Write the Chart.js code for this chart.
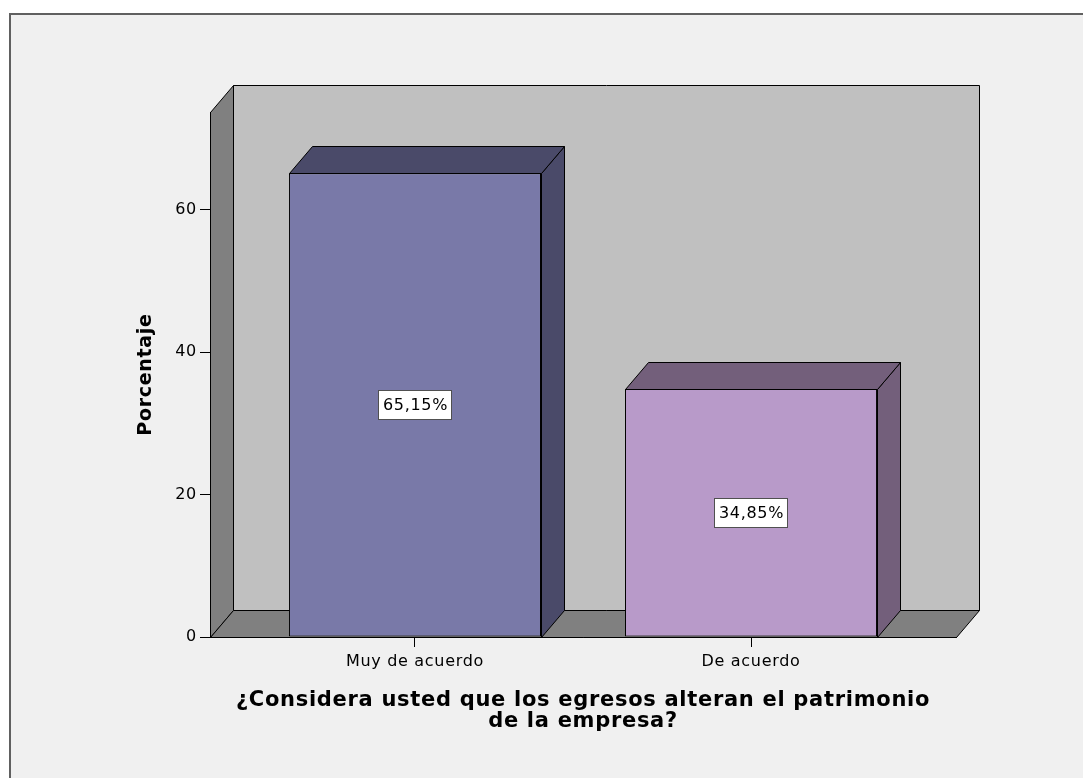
<!DOCTYPE html>
<html>
<head>
<meta charset="utf-8">
<title>Porcentaje</title>
<script src="https://cdn.jsdelivr.net/npm/chart.js@4.4.1/dist/chart.umd.min.js"></script>
<style>
    html, body { margin: 0; padding: 0; background: #fff; overflow: hidden; }
    #frame {
        position: absolute; left: 9px; top: 13px;
        width: 1100px; height: 800px;
        border: 2px solid #606060;
        background: #f0f0f0;
    }
    #chart { position: absolute; left: 0; top: 0; }
</style>
</head>
<body>
<div id="frame"></div>
<canvas id="chart" width="1083" height="778"></canvas>
<script>
const categories = ['Muy de acuerdo', 'De acuerdo'];
const percentages = [65.15, 34.85];
const yTicks = [0, 20, 40, 60];
const yMax = 73.76;
const xTitle = ['¿Considera usted que los egresos alteran el patrimonio', 'de la empresa?'];
const yTitle = 'Porcentaje';

const frontColors = ['#7979a8', '#b89ac9'];
const shadeColors = ['#4a4a69', '#735f7b'];

// depth of the fake 3D box, in pixels
const DX = 23;
const DY = 27;
const FONT = '"DejaVu Sans", sans-serif';

function px(v) {
    return Math.round(v) + 0.5;
}

function polygon(ctx, points, fill) {
    ctx.beginPath();
    points.forEach(([x, y], i) => {
        if (i === 0) ctx.moveTo(px(x), px(y));
        else ctx.lineTo(px(x), px(y));
    });
    ctx.closePath();
    ctx.fillStyle = fill;
    ctx.fill();
    ctx.stroke();
}

const box3d = {
    id: 'box3d',
    beforeDraw(chart) {
        const ctx = chart.ctx;
        const { left, right, top, bottom } = chart.chartArea;
        ctx.letterSpacing = '0.7px';
        ctx.save();
        ctx.strokeStyle = '#000';
        ctx.lineWidth = 1;
        // back wall, left wall, floor
        polygon(ctx, [[left + DX, top - DY], [right + DX, top - DY], [right + DX, bottom - DY], [left + DX, bottom - DY]], '#c0c0c0');
        polygon(ctx, [[left, top], [left + DX, top - DY], [left + DX, bottom - DY], [left, bottom]], '#808080');
        polygon(ctx, [[left, bottom], [left + DX, bottom - DY], [right + DX, bottom - DY], [right, bottom]], '#808080');
        ctx.restore();
    },
    afterDatasetsDraw(chart) {
        const ctx = chart.ctx;
        const meta = chart.getDatasetMeta(0);
        ctx.save();
        ctx.lineWidth = 1;
        meta.data.forEach((bar, i) => {
            const { x, y, width, base } = bar.getProps(['x', 'y', 'width', 'base'], true);
            const l = x - width / 2;
            const r = x + width / 2;
            // side and top faces of each bar
            ctx.strokeStyle = '#000';
            polygon(ctx, [[r, y], [r + DX, y - DY], [r + DX, base - DY], [r, base]], shadeColors[i]);
            polygon(ctx, [[l, y], [l + DX, y - DY], [r + DX, y - DY], [r, y]], shadeColors[i]);

            // value label in a white box
            const text = percentages[i].toFixed(2).replace('.', ',') + '%';
            ctx.font = '16px ' + FONT;
            const w = Math.round(ctx.measureText(text).width + 9);
            const h = 30;
            const cy = (y + base) / 2;
            const bx = Math.round(x - w / 2);
            const by = Math.round(cy - h / 2);
            ctx.fillStyle = '#fff';
            ctx.fillRect(bx, by, w, h);
            ctx.strokeStyle = '#505050';
            ctx.strokeRect(bx + 0.5, by + 0.5, w - 1, h - 1);
            ctx.fillStyle = '#000';
            ctx.textAlign = 'center';
            ctx.textBaseline = 'middle';
            ctx.fillText(text, x + 0.5, cy + 1);
        });
        ctx.restore();
    }
};

const ctx = document.getElementById('chart').getContext('2d');

new Chart(ctx, {
    type: 'bar',
    data: {
        labels: categories,
        datasets: [{
            data: percentages.map((v, i) => ({ x: i, y: v })),
            backgroundColor: frontColors,
            borderColor: '#000',
            borderWidth: 1,
            borderSkipped: false,
            grouped: false,
            barPercentage: 0.75,
            categoryPercentage: 1
        }]
    },
    options: {
        responsive: false,
        animation: false,
        layout: {
            padding: { left: 120, top: 112, right: 127, bottom: 41 }
        },
        plugins: {
            legend: { display: false },
            tooltip: { enabled: false }
        },
        scales: {
            x: {
                type: 'linear',
                offset: false,
                min: -0.61,
                max: 1.61,
                afterBuildTicks: scale => {
                    scale.ticks = categories.map((c, i) => ({ value: i }));
                },
                afterFit: scale => {
                    scale.height = 100;
                },
                grid: {
                    offset: false,
                    drawOnChartArea: false,
                    drawTicks: true,
                    tickLength: 10,
                    color: '#000'
                },
                border: { display: true, color: '#000' },
                ticks: {
                    callback: value => categories[value],
                    color: '#000',
                    padding: 5,
                    maxRotation: 0,
                    font: { family: FONT, size: 16 }
                },
                title: {
                    display: true,
                    text: xTitle,
                    color: '#000',
                    padding: { top: 4, bottom: 5 },
                    font: { family: FONT, size: 21, weight: 'bold', lineHeight: 1 }
                }
            },
            y: {
                min: 0,
                max: yMax,
                afterBuildTicks: scale => {
                    scale.ticks = yTicks.map(v => ({ value: v }));
                },
                afterFit: scale => {
                    scale.width = 90;
                },
                grid: {
                    drawOnChartArea: false,
                    drawTicks: true,
                    tickLength: 10,
                    color: '#000'
                },
                border: { display: true, color: '#000' },
                ticks: {
                    color: '#000',
                    padding: 3,
                    font: { family: FONT, size: 16 }
                },
                title: {
                    display: true,
                    text: yTitle,
                    color: '#000',
                    padding: { top: 15, bottom: 0 },
                    font: { family: FONT, size: 19, weight: 'bold' }
                }
            }
        }
    },
    plugins: [box3d]
});
</script>
</body>
</html>
